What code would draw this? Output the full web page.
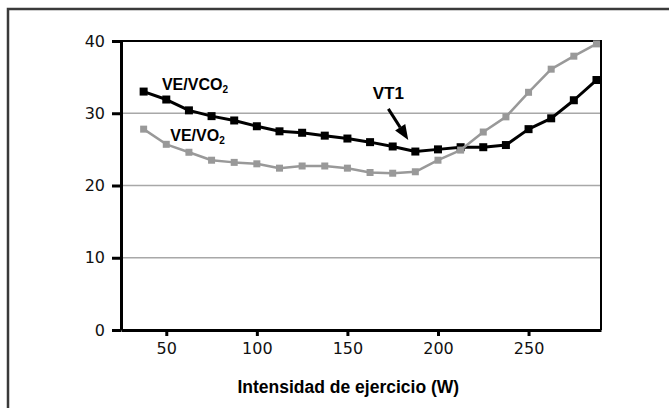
<!DOCTYPE html>
<html>
<head>
<meta charset="utf-8">
<script src="https://cdn.jsdelivr.net/npm/d3@7"></script>
<style>
  body { margin: 0; background: #fff; }
  svg { display: block; }
</style>
</head>
<body>
<div id="chart"></div>
<script>
// potencia de cada escalon (W)
const watts = [37.5, 50, 62.5, 75, 87.5, 100, 112.5, 125, 137.5, 150, 162.5,
  175, 187.5, 200, 212.5, 225, 237.5, 250, 262.5, 275, 287.5];

// equivalente ventilatorio de CO2
const veVco2 = [33.0, 31.9, 30.4, 29.6, 29.0, 28.2, 27.5, 27.3, 26.9, 26.5, 26.0,
  25.4, 24.7, 25.0, 25.3, 25.3, 25.6, 27.8, 29.3, 31.8, 34.6];

// equivalente ventilatorio de O2
const veVo2 = [27.8, 25.7, 24.6, 23.5, 23.2, 23.0, 22.4, 22.7, 22.7, 22.4, 21.8,
  21.7, 21.9, 23.5, 24.9, 27.4, 29.5, 32.9, 36.1, 37.9, 39.6];

const xTicks = [50, 100, 150, 200, 250];
const yTicks = [0, 10, 20, 30, 40];
const gridTicks = [10, 20, 30];
const xLabel = 'Intensidad de ejercicio (W)';

const {
  select,
  scaleLinear,
  axisLeft,
  axisBottom,
  line,
} = d3;

const width = 669, height = 408;
const margin = { top: 41, right: 68, bottom: 78, left: 121 };
const innerWidth = width - margin.left - margin.right;
const innerHeight = height - margin.top - margin.bottom;

const svg = select('#chart').append('svg')
  .attr('width', width)
  .attr('height', height);

// marco exterior (solo arriba e izquierda)
svg.append('path')
  .attr('d', `M8,${height} V9 H${width}`)
  .attr('fill', 'none')
  .attr('stroke', '#3a3a3a')
  .attr('stroke-width', 2.5);

const xScale = scaleLinear().domain([25, 290]).range([0, innerWidth]);
const yScale = scaleLinear().domain([0, 40]).range([innerHeight, 0]);

const g = svg.append('g')
  .attr('transform', `translate(${margin.left},${margin.top})`);

// lineas de grilla
g.selectAll('.grid').data(gridTicks)
  .enter().append('line')
  .attr('class', 'grid')
  .attr('x1', 0)
  .attr('x2', innerWidth)
  .attr('y1', d => yScale(d))
  .attr('y2', d => yScale(d))
  .attr('stroke', '#a8a8a8')
  .attr('stroke-width', 1.5);

// caja del grafico: arriba y derecha
g.append('path')
  .attr('d', `M0,0 H${innerWidth} V${innerHeight}`)
  .attr('fill', 'none')
  .attr('stroke', '#000')
  .attr('stroke-width', 2);

const yAxisG = g.append('g')
  .call(axisLeft(yScale).tickValues(yTicks).tickSize(9).tickPadding(7).tickSizeOuter(0));
const xAxisG = g.append('g')
  .attr('transform', `translate(0,${innerHeight})`)
  .call(axisBottom(xScale).tickValues(xTicks).tickSize(6).tickPadding(7).tickSizeOuter(0));

[yAxisG, xAxisG].forEach(ax => {
  ax.select('.domain').attr('stroke', '#000').attr('stroke-width', 3);
  ax.selectAll('.tick line').attr('stroke', '#000').attr('stroke-width', 3);
  ax.selectAll('.tick text')
    .attr('fill', '#111')
    .style('font-family', '"DejaVu Sans", sans-serif')
    .style('font-size', '16px');
});

// titulo del eje x
g.append('text')
  .attr('x', xScale(150.5))
  .attr('y', innerHeight + 63)
  .attr('text-anchor', 'middle')
  .style('font-family', '"Liberation Sans", Arial, sans-serif')
  .style('font-weight', 'bold')
  .style('font-size', '17.5px')
  .attr('fill', '#000')
  .text(xLabel);

const series = [
  { name: 'VE/VCO', values: veVco2, color: '#000', lw: 3, size: 8 },
  { name: 'VE/VO', values: veVo2, color: '#999', lw: 2.5, size: 7 },
];

series.forEach(s => {
  const pts = watts.map((w, i) => [w, s.values[i]]);
  g.append('path')
    .datum(pts)
    .attr('fill', 'none')
    .attr('stroke', s.color)
    .attr('stroke-width', s.lw)
    .attr('stroke-linejoin', 'round')
    .attr('d', line().x(d => xScale(d[0])).y(d => yScale(d[1])));

  g.selectAll(null).data(pts)
    .enter().append('rect')
    .attr('x', d => xScale(d[0]) - s.size / 2)
    .attr('y', d => yScale(d[1]) - s.size / 2)
    .attr('width', s.size)
    .attr('height', s.size)
    .attr('fill', s.color);
});

// etiquetas de las series (posicion en unidades de datos)
const labels = [
  { main: 'VE/VCO', sub: '2', w: 47.6, v: 33.2 },
  { main: 'VE/VO', sub: '2', w: 52.2, v: 26.2 },
];
labels.forEach(l => {
  const t = g.append('text')
    .attr('x', xScale(l.w))
    .attr('y', yScale(l.v))
    .style('font-family', '"Liberation Sans", Arial, sans-serif')
    .style('font-weight', 'bold')
    .style('font-size', '16px')
    .attr('fill', '#000');
  t.append('tspan').text(l.main);
  t.append('tspan').attr('dy', 3).style('font-size', '10px').text(l.sub);
});

// umbral ventilatorio VT1 con flecha
g.append('text')
  .attr('x', xScale(164))
  .attr('y', yScale(32.0))
  .style('font-family', '"Liberation Sans", Arial, sans-serif')
  .style('font-weight', 'bold')
  .style('font-size', '17px')
  .attr('fill', '#000')
  .text('VT1');

const arrowFrom = [172.6, 30.6], arrowTo = [183.6, 26.3];
const x0 = xScale(arrowFrom[0]), y0 = yScale(arrowFrom[1]);
const x1 = xScale(arrowTo[0]), y1 = yScale(arrowTo[1]);
const ang = Math.atan2(y1 - y0, x1 - x0);
const headLen = 15, headW = 6;
const bx = x1 - headLen * Math.cos(ang), by = y1 - headLen * Math.sin(ang);

g.append('line')
  .attr('x1', x0).attr('y1', y0)
  .attr('x2', bx).attr('y2', by)
  .attr('stroke', '#000')
  .attr('stroke-width', 3);
g.append('path')
  .attr('d', `M${x1},${y1} L${bx + headW * Math.sin(ang)},${by - headW * Math.cos(ang)} L${bx - headW * Math.sin(ang)},${by + headW * Math.cos(ang)} Z`)
  .attr('fill', '#000');
</script>
</body>
</html>
